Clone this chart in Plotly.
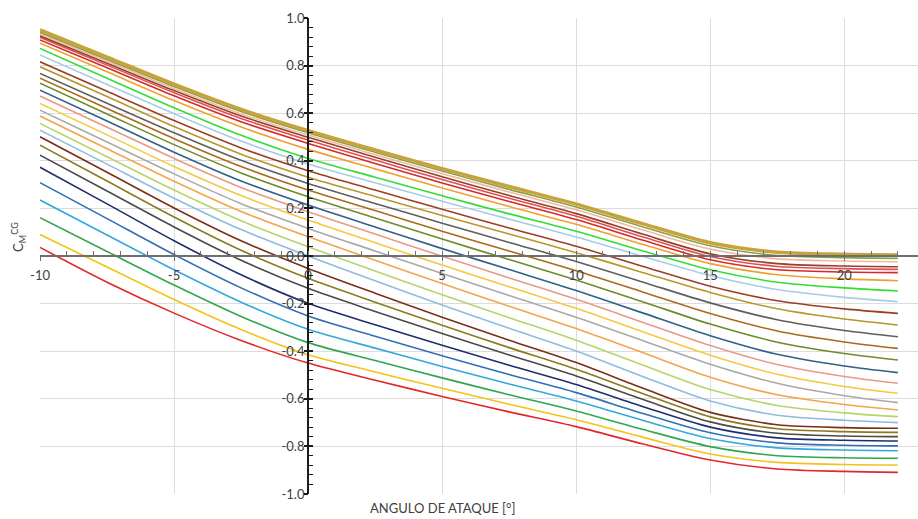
import plotly.graph_objects as go

# Angle of attack (deg)
alpha = [-10, -7.5, -5, -2.5, 0, 2.5, 5, 7.5, 10, 12.5, 15, 17.5, 20, 22]

# CM_CG curves, top to bottom
cm_01 = [0.950, 0.836, 0.722, 0.616, 0.527, 0.446, 0.367, 0.292, 0.218, 0.135, 0.056, 0.016, 0.007, 0.004]
cm_02 = [0.940, 0.826, 0.712, 0.607, 0.518, 0.436, 0.357, 0.280, 0.206, 0.122, 0.043, 0.002, -0.007, -0.010]
cm_03 = [0.932, 0.818, 0.703, 0.597, 0.508, 0.426, 0.346, 0.269, 0.194, 0.109, 0.029, -0.012, -0.021, -0.024]
cm_04 = [0.925, 0.810, 0.695, 0.588, 0.499, 0.415, 0.333, 0.254, 0.178, 0.091, 0.009, -0.032, -0.042, -0.045]
cm_05 = [0.919, 0.802, 0.686, 0.578, 0.487, 0.403, 0.321, 0.243, 0.167, 0.080, -0.002, -0.044, -0.053, -0.056]
cm_06 = [0.908, 0.791, 0.673, 0.564, 0.473, 0.389, 0.307, 0.229, 0.153, 0.066, -0.016, -0.058, -0.067, -0.070]
cm_07 = [0.894, 0.774, 0.653, 0.542, 0.448, 0.366, 0.286, 0.208, 0.133, 0.048, -0.032, -0.079, -0.096, -0.104]
cm_08 = [0.872, 0.747, 0.623, 0.507, 0.410, 0.331, 0.253, 0.177, 0.104, 0.021, -0.058, -0.110, -0.134, -0.147]
cm_09 = [0.845, 0.721, 0.598, 0.483, 0.387, 0.308, 0.230, 0.155, 0.080, -0.002, -0.082, -0.141, -0.174, -0.192]
cm_10 = [0.816, 0.692, 0.569, 0.454, 0.358, 0.277, 0.196, 0.118, 0.041, -0.044, -0.127, -0.188, -0.222, -0.241]
cm_11 = [0.795, 0.670, 0.544, 0.428, 0.331, 0.250, 0.170, 0.092, 0.014, -0.070, -0.153, -0.222, -0.265, -0.290]
cm_12 = [0.767, 0.642, 0.518, 0.402, 0.305, 0.221, 0.138, 0.057, -0.023, -0.110, -0.197, -0.268, -0.313, -0.339]
cm_13 = [0.747, 0.620, 0.493, 0.376, 0.277, 0.191, 0.104, 0.021, -0.062, -0.152, -0.242, -0.315, -0.361, -0.388]
cm_14 = [0.726, 0.597, 0.468, 0.349, 0.249, 0.160, 0.071, -0.015, -0.101, -0.193, -0.286, -0.362, -0.410, -0.437]
cm_15 = [0.697, 0.567, 0.436, 0.315, 0.214, 0.122, 0.031, -0.057, -0.145, -0.240, -0.335, -0.413, -0.462, -0.490]
cm_16 = [0.672, 0.541, 0.410, 0.288, 0.186, 0.092, -0.001, -0.092, -0.182, -0.279, -0.376, -0.456, -0.506, -0.535]
cm_17 = [0.641, 0.509, 0.376, 0.254, 0.151, 0.056, -0.038, -0.129, -0.220, -0.319, -0.417, -0.497, -0.548, -0.577]
cm_18 = [0.613, 0.479, 0.345, 0.220, 0.116, 0.021, -0.074, -0.166, -0.257, -0.356, -0.455, -0.535, -0.587, -0.616]
cm_19 = [0.588, 0.451, 0.314, 0.187, 0.081, -0.018, -0.116, -0.211, -0.305, -0.407, -0.509, -0.583, -0.624, -0.647]
cm_20 = [0.557, 0.417, 0.277, 0.148, 0.039, -0.063, -0.163, -0.259, -0.354, -0.459, -0.561, -0.628, -0.659, -0.675]
cm_21 = [0.529, 0.386, 0.243, 0.111, 0.000, -0.104, -0.206, -0.304, -0.399, -0.507, -0.609, -0.669, -0.690, -0.700]
cm_22 = [0.501, 0.352, 0.202, 0.064, -0.052, -0.156, -0.257, -0.354, -0.448, -0.556, -0.657, -0.709, -0.721, -0.724]
cm_23 = [0.466, 0.315, 0.164, 0.024, -0.094, -0.194, -0.291, -0.385, -0.476, -0.579, -0.676, -0.726, -0.738, -0.741]
cm_24 = [0.424, 0.273, 0.122, -0.018, -0.136, -0.233, -0.326, -0.416, -0.504, -0.603, -0.697, -0.745, -0.756, -0.759]
cm_25 = [0.373, 0.219, 0.064, -0.079, -0.199, -0.289, -0.375, -0.459, -0.540, -0.633, -0.719, -0.764, -0.774, -0.777]
cm_26 = [0.308, 0.157, 0.006, -0.134, -0.252, -0.337, -0.419, -0.498, -0.574, -0.662, -0.743, -0.785, -0.795, -0.798]
cm_27 = [0.235, 0.088, -0.058, -0.194, -0.308, -0.387, -0.464, -0.538, -0.609, -0.691, -0.767, -0.806, -0.815, -0.818]
cm_28 = [0.161, 0.019, -0.122, -0.254, -0.364, -0.439, -0.512, -0.583, -0.651, -0.729, -0.801, -0.839, -0.848, -0.850]
cm_29 = [0.090, -0.046, -0.183, -0.309, -0.415, -0.487, -0.556, -0.623, -0.688, -0.762, -0.832, -0.867, -0.876, -0.878]
cm_30 = [0.036, -0.110, -0.240, -0.355, -0.450, -0.522, -0.590, -0.655, -0.717, -0.790, -0.857, -0.895, -0.905, -0.909]

curves = [cm_01, cm_02, cm_03, cm_04, cm_05, cm_06, cm_07, cm_08, cm_09, cm_10,
          cm_11, cm_12, cm_13, cm_14, cm_15, cm_16, cm_17, cm_18, cm_19, cm_20,
          cm_21, cm_22, cm_23, cm_24, cm_25, cm_26, cm_27, cm_28, cm_29, cm_30]

colors = ["#C8A23A", "#84A34A", "#F2B8A0", "#94402A", "#E05050", "#D42A2A", "#F0A030",
          "#33DD33", "#A8CCE8", "#9C3E26", "#B8962A", "#5E5E5E", "#A86A1E", "#6F8A2A",
          "#2F5F8A", "#E89A84", "#F5C842", "#A9A9A9", "#F2A54A", "#B7D46A", "#8EBCE0",
          "#7B2E1A", "#8C7A1C", "#4A4A4A", "#1F2F6B", "#2F6FB5", "#33A8DE", "#2FA64F",
          "#F4C21A", "#E4262B"]

x_ticks = [-10, -5, 0, 5, 10, 15, 20]
x_ticktext = ["-10", "-5", "0", "5", "10", "15", "20"]
y_ticks = [-1.0, -0.8, -0.6, -0.4, -0.2, 0.0, 0.2, 0.4, 0.6, 0.8, 1.0]
y_ticktext = ["-1.0", "-0.8", "-0.6", "-0.4", "-0.2", "0.0", "0.2", "0.4", "0.6", "0.8", "1.0"]

fig = go.Figure()
for i in range(len(curves) - 1, -1, -1):
    fig.add_trace(go.Scatter(
        x=alpha, y=curves[i], mode="lines",
        line=dict(color=colors[i], width=3.5 if i == 0 else 1.6, shape="spline", smoothing=0.8),
        showlegend=False, hoverinfo="skip"))

# empty trace to host overlay axes (outer half of the cross ticks)
fig.add_trace(go.Scatter(x=[], y=[], xaxis="x2", yaxis="y2", showlegend=False))

XR = [-10, 22.75]
YR = [-1.0, 1.0]
ypos = (0 - XR[0]) / (XR[1] - XR[0])
FONT = "Lato, 'Open Sans', sans-serif"
tickfont = dict(family=FONT, size=13, color="#404040")

fig.update_layout(
    width=918, height=519,
    margin=dict(l=40, r=0, t=18, b=25),
    paper_bgcolor="white", plot_bgcolor="white",
    showlegend=False,
    xaxis=dict(range=XR, anchor="free", position=0.5, showline=True, linecolor="#6E6E6E",
               linewidth=2, tickvals=x_ticks, ticktext=x_ticktext, ticks="inside",
               ticklen=4, tickwidth=1.3, tickcolor="#6E6E6E", tickfont=tickfont,
               ticklabelstandoff=7,
               showgrid=True, gridcolor="#DCDCDC", gridwidth=1, zeroline=False,
               minor=dict(dtick=1, ticks="inside", ticklen=4, tickcolor="#6E6E6E",
                          tickwidth=1, showgrid=False)),
    yaxis=dict(range=YR, anchor="free", position=ypos, showline=True, linecolor="#1A1A1A",
               linewidth=2, tickvals=y_ticks, ticktext=y_ticktext, ticks="inside",
               ticklen=4, tickwidth=1.5, tickcolor="#1A1A1A", tickfont=tickfont,
               showgrid=True, gridcolor="#DCDCDC", gridwidth=1, zeroline=False,
               minor=dict(dtick=0.04, ticks="inside", ticklen=4, tickcolor="#1A1A1A",
                          tickwidth=1, showgrid=False)),
    xaxis2=dict(range=XR, overlaying="x", anchor="free", position=0.5, showline=False,
                tickvals=x_ticks, ticks="outside", ticklen=4, tickwidth=1.3,
                tickcolor="#6E6E6E", showticklabels=False, showgrid=False, zeroline=False),
    yaxis2=dict(range=YR, overlaying="y", anchor="free", position=ypos, showline=False,
                tickvals=y_ticks, ticks="outside", ticklen=4, tickwidth=1.5,
                tickcolor="#1A1A1A", showticklabels=False, showgrid=False, zeroline=False),
    annotations=[
        dict(text="ANGULO DE ATAQUE [°]", xref="paper", yref="paper", x=0.458, y=-0.03,
             xanchor="center", yanchor="middle", showarrow=False,
             font=dict(family=FONT, size=13, color="#404040")),
        dict(text="C<sub>M</sub><sup>CG</sup>", xref="paper", yref="paper", x=-0.024, y=0.54,
             xanchor="center", yanchor="middle", showarrow=False, textangle=-90,
             font=dict(family=FONT, size=13, color="#404040")),
    ],
)

fig.write_html("out.html", config={"displayModeBar": False},
               post_script="document.body.style.margin='0';document.body.style.overflow='hidden';")
